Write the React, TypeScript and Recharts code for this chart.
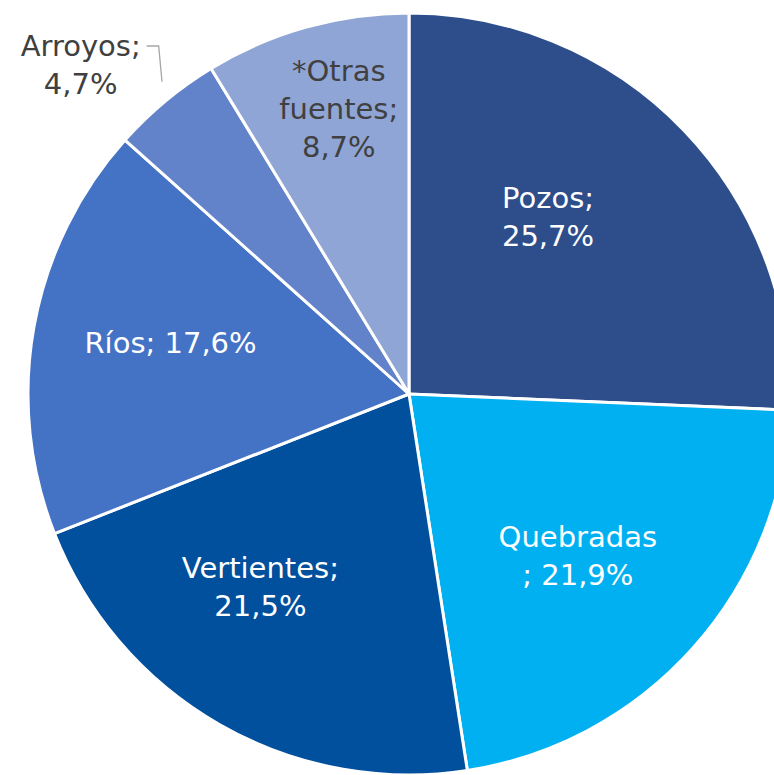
import { PieChart, Pie, Cell } from 'recharts'

const NAMES = ['Pozos', 'Quebradas', 'Vertientes', 'Ríos', 'Arroyos', '*Otras fuentes']
const VALUES = [25.7, 21.9, 21.5, 17.6, 4.7, 8.7]
// how each label is broken into lines ({v} = value)
const LABEL_LINES = [
  ['Pozos;', '{v}'],
  ['Quebradas', '; {v}'],
  ['Vertientes;', '{v}'],
  ['Ríos; {v}'],
  ['Arroyos;', '{v}'],
  ['*Otras', 'fuentes;', '{v}'],
]

const COLORS = ['#2E4E8B', '#00B0F0', '#00509E', '#4472C4', '#6282CA', '#8FA5D5']
const TEXT_COLORS = ['#fff', '#fff', '#fff', '#fff', '#404040', '#404040']
// label placement: shift from slice mid angle (deg, clockwise) and radius fraction
const LABEL_SHIFT = [-8, 2, 7.7, 1.9, -5.2, 1.8]
const LABEL_RADIUS = [0.59, 0.614, 0.64, 0.64, 1.22, 0.77]

const data = NAMES.map((name, i) => ({ name, value: VALUES[i] }))

const FONT = '"DejaVu Sans", sans-serif'
const FONT_SIZE = 29
const LINE_H = 38
const RAD = Math.PI / 180

function fmt(n: number) {
  return n.toFixed(1).replace('.', ',') + '%'
}

function renderLabel(props: any) {
  const { cx, cy, midAngle, outerRadius, index, value } = props
  const a = (midAngle - LABEL_SHIFT[index]) * RAD
  const r = outerRadius * LABEL_RADIUS[index]
  const x = cx + r * Math.cos(a)
  const y = cy - r * Math.sin(a)
  const lines = LABEL_LINES[index].map((l) => l.replace('{v}', fmt(value)))
  const top = y - ((lines.length - 1) * LINE_H) / 2
  // leader line for the label drawn outside the pie
  let leader = null
  if (LABEL_RADIUS[index] > 1) {
    const ma = (midAngle - 1.4) * RAD
    const ex = cx + outerRadius * 1.045 * Math.cos(ma)
    const ey = cy - outerRadius * 1.045 * Math.sin(ma)
    const sx = x + 66
    const sy = top
    leader = (
      <polyline
        points={`${sx},${sy} ${sx + 12},${sy} ${ex},${ey}`}
        fill="none"
        stroke="#A6A6A6"
        strokeWidth={1.3}
      />
    )
  }
  return (
    <g key={`lbl-${index}`}>
      {leader}
      <text
        x={x}
        y={top}
        fill={TEXT_COLORS[index]}
        fontFamily={FONT}
        fontSize={FONT_SIZE}
        textAnchor="middle"
        dominantBaseline="central"
      >
        {lines.map((l, i) => (
          <tspan key={i} x={x} dy={i === 0 ? 0 : LINE_H}>
            {l}
          </tspan>
        ))}
      </text>
    </g>
  )
}

export default function App() {
  return (
    <div style={{ position: 'absolute', left: 0, top: 0, width: 774, height: 775, background: '#fff' }}>
      <PieChart width={774} height={775} margin={{ top: 0, right: 0, bottom: 0, left: 0 }}>
        <Pie
          data={data}
          dataKey="value"
          nameKey="name"
          cx={409}
          cy={394}
          outerRadius={381}
          startAngle={90}
          endAngle={-270}
          stroke="#fff"
          strokeWidth={3}
          label={renderLabel}
          labelLine={false}
          isAnimationActive={false}
        >
          {data.map((d, i) => (
            <Cell key={d.name} fill={COLORS[i]} />
          ))}
        </Pie>
      </PieChart>
    </div>
  )
}
